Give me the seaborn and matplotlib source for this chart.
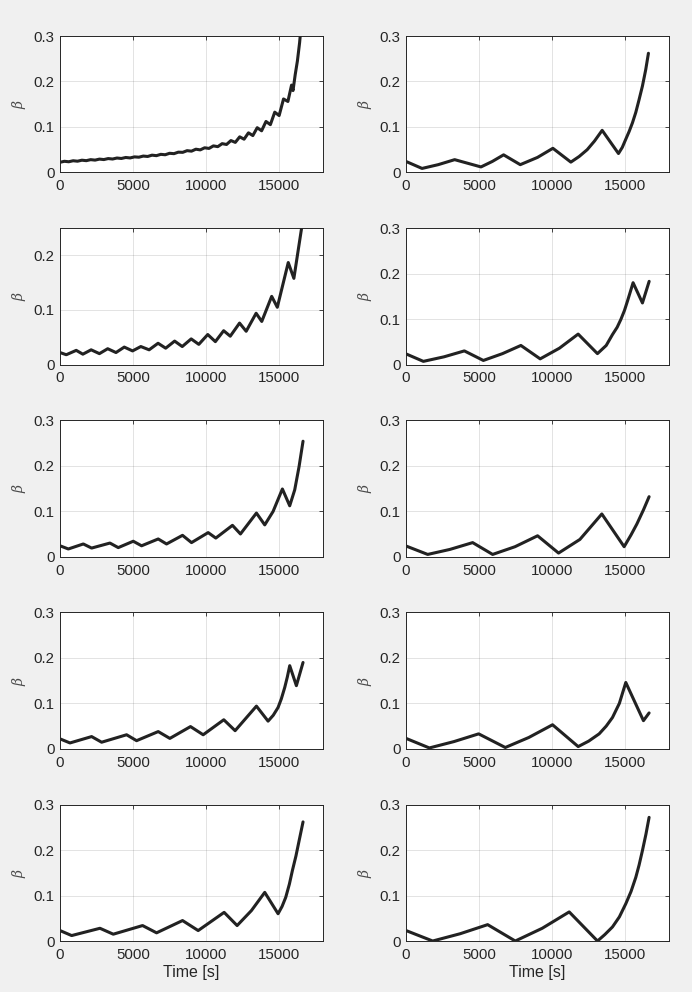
import matplotlib
matplotlib.use("Agg")
import matplotlib.pyplot as plt
import seaborn as sns
import pandas as pd

# ---------------- data ----------------
# Panel A (row 1, left): slow growth with small fast wiggles
t_a = [0, 300, 600, 900, 1200, 1500, 1800, 2100, 2400, 2700, 3000, 3300, 3600, 3900,
       4200, 4500, 4800, 5100, 5400, 5700, 6000, 6300, 6600, 6900, 7200, 7500, 7800,
       8100, 8400, 8700, 9000, 9300, 9600, 9900, 10200, 10500, 10800, 11100, 11400,
       11700, 12000, 12300, 12600, 12900, 13200, 13500, 13800, 14100, 14400, 14700,
       15000, 15300, 15600, 15850, 15950, 16100, 16250, 16400, 16500]
b_a = [0.0222, 0.0244, 0.0234, 0.0256, 0.0246, 0.0268, 0.0258, 0.0280, 0.0270, 0.0292,
       0.0282, 0.0304, 0.0294, 0.0316, 0.0306, 0.0328, 0.0318, 0.0341, 0.0334, 0.0359,
       0.0350, 0.0379, 0.0368, 0.0397, 0.0388, 0.0420, 0.0412, 0.0445, 0.0441, 0.0478,
       0.0467, 0.0510, 0.0495, 0.0541, 0.0527, 0.0583, 0.0566, 0.0632, 0.0614, 0.0700,
       0.0660, 0.0782, 0.0730, 0.0870, 0.0810, 0.0983, 0.0915, 0.1120, 0.1050, 0.1325,
       0.1250, 0.1615, 0.1560, 0.1920, 0.1800, 0.2150, 0.2450, 0.2850, 0.3200]

# Panel B (row 1, right)
t_b = [0, 1094, 2200, 3327, 5128, 5900, 6677, 7817, 9000, 10050, 11280, 11850, 12400,
       12900, 13423, 14540, 14800, 15040, 15270, 15496, 15725, 15950, 16180, 16405, 16590]
b_b = [0.024, 0.0087, 0.017, 0.028, 0.012, 0.024, 0.0386, 0.017, 0.033, 0.053, 0.0226,
       0.035, 0.050, 0.069, 0.0925, 0.0415, 0.055, 0.073, 0.090, 0.109, 0.132, 0.160,
       0.190, 0.226, 0.262]

# Panel C (row 2, left)
t_c = [0, 430, 1111, 1565, 2131, 2698, 3265, 3832, 4399, 4966, 5533, 6100, 6712, 7234,
       7846, 8367, 8980, 9501, 10113, 10635, 11202, 11655, 12290, 12744, 13424, 13810,
       14490, 14875, 15624, 16009, 16531, 16620]
b_c = [0.022, 0.018, 0.026, 0.019, 0.027, 0.020, 0.029, 0.022, 0.032, 0.025, 0.033,
       0.027, 0.039, 0.030, 0.043, 0.033, 0.047, 0.037, 0.055, 0.042, 0.062, 0.052,
       0.076, 0.061, 0.094, 0.079, 0.125, 0.105, 0.187, 0.158, 0.249, 0.275]

# Panel D (row 2, right)
t_d = [0, 1185, 2600, 3990, 5290, 6600, 7860, 9180, 10500, 11780, 13100, 13700, 14130,
       14450, 14700, 14950, 15150, 15350, 15540, 16180, 16640]
b_d = [0.0234, 0.007, 0.017, 0.030, 0.009, 0.024, 0.042, 0.0125, 0.036, 0.067, 0.024,
       0.042, 0.066, 0.082, 0.099, 0.119, 0.139, 0.160, 0.180, 0.1355, 0.183]

# Panel E (row 3, left)
t_e = [0, 570, 1595, 2165, 3418, 3988, 5014, 5584, 6723, 7293, 8387, 9002, 10141,
       10665, 11805, 12352, 13446, 14015, 14585, 15223, 15724, 16066, 16363, 16636]
b_e = [0.024, 0.017, 0.028, 0.019, 0.030, 0.020, 0.034, 0.024, 0.039, 0.028, 0.047,
       0.031, 0.053, 0.041, 0.069, 0.050, 0.096, 0.070, 0.0995, 0.149, 0.112, 0.147,
       0.198, 0.254]

# Panel F (row 3, right)
t_f = [0, 1481, 3000, 4558, 5926, 7460, 9003, 10439, 11900, 13400, 14927, 15400, 15800,
       16250, 16636]
b_f = [0.0235, 0.005, 0.016, 0.031, 0.005, 0.022, 0.046, 0.008, 0.038, 0.094, 0.022,
       0.048, 0.072, 0.103, 0.132]

# Panel G (row 4, left)
t_g = [0, 684, 2165, 2849, 4558, 5242, 6723, 7520, 8933, 9800, 11212, 11987, 13446,
       14243, 14600, 14927, 15150, 15383, 15560, 15725, 16180, 16636]
b_g = [0.022, 0.013, 0.027, 0.0146, 0.031, 0.018, 0.038, 0.023, 0.049, 0.031, 0.064,
       0.040, 0.094, 0.061, 0.074, 0.091, 0.110, 0.135, 0.158, 0.183, 0.139, 0.190]

# Panel H (row 4, right)
t_h = [0, 1595, 3280, 4968, 6792, 8400, 10027, 11782, 12500, 13218, 13700, 14130,
       14600, 15041, 16249, 16636]
b_h = [0.023, 0.002, 0.016, 0.033, 0.003, 0.025, 0.053, 0.005, 0.017, 0.033, 0.050,
       0.069, 0.100, 0.146, 0.062, 0.079]

# Panel I (row 5, left)
t_i = [0, 798, 2735, 3647, 5652, 6610, 8387, 9458, 11235, 12124, 13104, 14015, 14927,
       15200, 15451, 15700, 15907, 16150, 16363, 16636]
b_i = [0.023, 0.012, 0.028, 0.015, 0.034, 0.018, 0.045, 0.023, 0.063, 0.034, 0.067,
       0.107, 0.060, 0.076, 0.096, 0.125, 0.155, 0.187, 0.220, 0.262]

# Panel J (row 5, right)
t_j = [0, 1823, 3700, 5584, 7476, 9320, 11167, 13104, 13600, 14130, 14600, 15041,
       15400, 15725, 15950, 16180, 16420, 16636]
b_j = [0.023, 0.0, 0.016, 0.036, 0.0, 0.028, 0.064, 0.0, 0.014, 0.031, 0.053, 0.082,
       0.109, 0.140, 0.167, 0.199, 0.235, 0.272]

panels = [(t_a, b_a), (t_b, b_b), (t_c, b_c), (t_d, b_d), (t_e, b_e),
          (t_f, b_f), (t_g, b_g), (t_h, b_h), (t_i, b_i), (t_j, b_j)]
ymax = [0.3, 0.3, 0.25, 0.3, 0.3, 0.3, 0.3, 0.3, 0.3, 0.3]

x_ticks = [0, 5000, 10000, 15000]
x_ticklabels = ["0", "5000", "10000", "15000"]
y_ticks = [0, 0.1, 0.2, 0.3]
y_ticklabels = ["0", "0.1", "0.2", "0.3"]
x_label = "Time [s]"
y_label = r"$\beta$"

# ---------------- style ----------------
sns.set_style("white")
plt.rcParams["font.family"] = ["Liberation Sans", "DejaVu Sans"]
plt.rcParams["mathtext.fontset"] = "dejavuserif"
text_col = "#262626"

fig, axes = plt.subplots(5, 2, figsize=(6.92, 9.92), dpi=100)
fig.patch.set_facecolor("#f0f0f0")
fig.subplots_adjust(left=0.0867, right=0.9668, top=0.9637, bottom=0.0514,
                    wspace=0.316, hspace=0.409)

for k, ax in enumerate(axes.flat):
    t, b = panels[k]
    df = pd.DataFrame({"t": t, "beta": b})
    sns.lineplot(data=df, x="t", y="beta", ax=ax, color="#222222", linewidth=2.2,
                 sort=False, estimator=None)
    ax.set_facecolor("white")
    ax.set_xlim(0, 18000)
    ax.set_ylim(0, ymax[k])
    yt = [v for v in y_ticks if v <= ymax[k] + 1e-9]
    ax.set_xticks(x_ticks)
    ax.set_xticklabels(x_ticklabels)
    ax.set_yticks(yt)
    ax.set_yticklabels(y_ticklabels[:len(yt)])
    ax.grid(True, color=text_col, alpha=0.15, linewidth=0.6)
    for s in ax.spines.values():
        s.set_visible(True)
        s.set_color(text_col)
        s.set_linewidth(0.7)
    ax.tick_params(direction="in", length=3, width=0.6, colors=text_col,
                   labelsize=10.8, top=True, right=True,
                   labeltop=False, labelright=False)
    ax.tick_params(axis="x", pad=5)
    ax.tick_params(axis="y", pad=4)
    ax.set_ylabel(y_label, fontsize=10, color="#4a4a4a", labelpad=4)
    if k >= 8:
        ax.set_xlabel(x_label, fontsize=11.5, color=text_col, labelpad=2)
    else:
        ax.set_xlabel("")

fig.savefig("out.png", dpi=100, facecolor=fig.get_facecolor())
